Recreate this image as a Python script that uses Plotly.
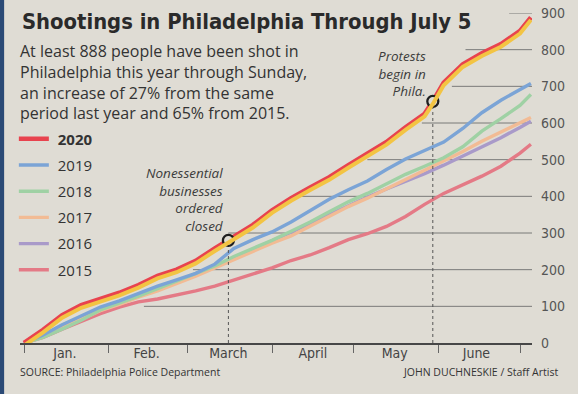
import pandas as pd
import plotly.graph_objects as go

# dias desde el 1 de enero (todas las series llevadas al calendario 2020)
days = [0, 7, 14, 21, 28, 35, 42, 49, 56, 63, 70, 77, 84, 91, 98, 105, 112,
        119, 126, 133, 140, 147, 154, 161, 168, 175, 182, 186]
days_2020 = [0, 7, 14, 21, 28, 35, 42, 49, 56, 63, 70, 75, 77, 84, 91, 98, 105,
             112, 119, 126, 133, 140, 147, 150, 154, 161, 168, 175, 182, 186]

shot_2020 = [0, 36, 76, 103, 120, 137, 158, 183, 200, 224, 258, 280, 290, 322, 362,
             395, 424, 452, 485, 515, 548, 588, 625, 659, 710, 760, 790, 815, 851, 888]
shot_2019 = [0, 22, 50, 75, 98, 115, 136, 155, 172, 190, 215, 258, 282, 303, 330,
             360, 392, 418, 442, 473, 502, 525, 548, 585, 628, 662, 690, 708]
shot_2018 = [0, 15, 38, 62, 90, 108, 128, 148, 168, 188, 210, 236, 258, 280, 305,
             330, 358, 385, 408, 435, 460, 482, 505, 535, 578, 612, 648, 678]
shot_2017 = [0, 18, 42, 65, 88, 105, 125, 142, 162, 182, 205, 228, 250, 272, 292,
             318, 345, 372, 395, 420, 445, 470, 496, 522, 550, 575, 600, 615]
shot_2016 = [0, 20, 48, 70, 92, 110, 130, 148, 168, 188, 208, 232, 255, 278, 300,
             325, 350, 375, 398, 420, 440, 462, 485, 510, 535, 560, 588, 605]
shot_2015 = [0, 15, 38, 60, 80, 98, 112, 120, 130, 142, 155, 172, 190, 205, 225,
             240, 260, 282, 298, 318, 345, 378, 408, 432, 455, 482, 518, 542]

years = ["2015", "2016", "2017", "2018", "2019"]
series = [shot_2015, shot_2016, shot_2017, shot_2018, shot_2019]
colors = ["#e47a86", "#a99ac9", "#f2bb94", "#9fd1a4", "#7ba4d6"]

# eventos marcados
event_days = [75, 150]
event_values = [280, 659]
event_text = ["<i>Nonessential<br>businesses<br>ordered<br>closed</i>",
              "<i>Protests<br>begin in<br>Phila.</i>"]
event_xshift = [-2, -5]
event_yshift = [3, -1]

month_mid = ["2020-01-16", "2020-02-15", "2020-03-16", "2020-04-16", "2020-05-16", "2020-06-15"]
month_labels = ["Jan.", "Feb.", "March", "April", "May", "June"]

y_ticks = [0, 100, 200, 300, 400, 500, 600, 700, 800, 900]
# donde empieza cada linea de referencia (por la izquierda)
grid_start = [None, 44, 62, 75, 100, 126, 146, 157, 162, 178]

base = pd.Timestamp("2020-01-01")


def to_dates(d):
    return [base + pd.Timedelta(days=x) for x in d]


BG = "#dfdcd4"
NARROW = "DejaVu Sans Condensed, Liberation Sans Narrow, sans-serif"
TEXT = "Open Sans, Noto Sans, sans-serif"
NBSP = "\u00a0"

fig = go.Figure()

for i, (yr, vals, c) in enumerate(zip(years, series, colors)):
    fig.add_trace(go.Scatter(
        x=to_dates(days), y=vals, mode="lines", name=NBSP + yr,
        legendgroup=yr, legendrank=10 - i, line=dict(color=c, width=3.4),
        hoverinfo="skip",
    ))

# sombra amarilla (desfase de impresion) bajo la linea 2020
fig.add_trace(go.Scatter(
    x=to_dates(days_2020), y=shot_2020, mode="lines", yaxis="y2",
    line=dict(color="#f3c443", width=4), showlegend=False, hoverinfo="skip",
))
fig.add_trace(go.Scatter(
    x=to_dates(days_2020), y=shot_2020, mode="lines", name=NBSP + "<b>2020</b>",
    legendgroup="2020", legendrank=1, line=dict(color="#e8434e", width=4.6),
    hoverinfo="skip",
))

# lineas verticales punteadas y marcadores de los eventos
for d, v in zip(event_days, event_values):
    fig.add_trace(go.Scatter(
        x=to_dates([d, d]), y=[0, v], mode="lines", showlegend=False,
        line=dict(color="#555", width=1, dash="dot"), hoverinfo="skip",
    ))
fig.add_trace(go.Scatter(
    x=to_dates(event_days), y=event_values, mode="markers", showlegend=False,
    marker=dict(size=11, color=BG, line=dict(color="#1e1e1e", width=2.3)),
    hoverinfo="skip",
))

# eje auxiliar para las etiquetas de los meses
fig.add_trace(go.Scatter(
    x=[base], y=[0], xaxis="x2", mode="markers", showlegend=False,
    marker=dict(opacity=0), hoverinfo="skip",
))

x_start = base - pd.Timedelta(days=1.47)
x_end = base + pd.Timedelta(days=186.4)

for level, start in zip(y_ticks, grid_start):
    if start is None:
        continue
    fig.add_shape(type="line", xref="x", yref="y",
                  x0=base + pd.Timedelta(days=start), x1=x_end, y0=level, y1=level,
                  line=dict(color="#6e6e6e", width=0.9), layer="below")

for d, v, t, xs, ys in zip(event_days, event_values, event_text, event_xshift, event_yshift):
    fig.add_annotation(x=base + pd.Timedelta(days=d), y=v, text=t, showarrow=False,
                       xanchor="right", yanchor="bottom", align="right",
                       xshift=xs, yshift=ys,
                       font=dict(family=TEXT, size=13.5, color="#3c3c3c"))

fig.add_annotation(xref="paper", yref="paper", x=0.0, y=0.973, xanchor="left",
                   yanchor="middle", showarrow=False,
                   text="<b>Shootings in Philadelphia Through July 5</b>",
                   font=dict(family=NARROW, size=21.8, color="#2a2a2a"))
fig.add_annotation(xref="paper", yref="paper", x=-0.004, y=0.925, xanchor="left",
                   yanchor="top", showarrow=False, align="left",
                   text="At least 888 people have been shot in<br>"
                        "Philadelphia this year through Sunday,<br>"
                        "an increase of 27% from the same<br>"
                        "period last year and 65% from 2015.",
                   font=dict(family=TEXT, size=16, color="#333"))
fig.add_annotation(xref="paper", yref="paper", x=-0.004, y=-0.088, xanchor="left",
                   yanchor="middle", showarrow=False,
                   text="SOURCE: Philadelphia Police Department",
                   font=dict(family=TEXT, size=10.5, color="#333"))
fig.add_annotation(xref="paper", yref="paper", x=1.055, y=-0.088, xanchor="right",
                   yanchor="middle", showarrow=False,
                   text="JOHN DUCHNESKIE / Staff Artist",
                   font=dict(family=TEXT, size=10.5, color="#333"))

# borde azul del escaneo
fig.add_shape(type="rect", xref="paper", yref="paper",
              x0=-0.045, x1=-0.031, y0=-0.2, y1=1.1,
              fillcolor="#2b4a76", line=dict(width=0), layer="above")

fig.update_layout(
    width=578, height=394,
    margin=dict(l=20, r=46, t=13, b=51, autoexpand=False),
    paper_bgcolor=BG, plot_bgcolor=BG,
    showlegend=True,
    legend=dict(x=-0.012, y=0.668, xanchor="left", yanchor="top",
                traceorder="grouped", tracegroupgap=3.7,
                bgcolor="rgba(0,0,0,0)",
                font=dict(family=TEXT, size=15, color="#333")),
    xaxis=dict(type="date", range=[x_start, x_end], tickmode="linear",
               tick0="2020-01-01", dtick="M1", ticks="outside", ticklen=8,
               tickwidth=1, tickcolor="#666", showticklabels=False,
               showgrid=False, zeroline=False, showline=True,
               linecolor="#474747", linewidth=2),
    xaxis2=dict(type="date", range=[x_start, x_end], overlaying="x", anchor="y",
                side="bottom", tickmode="array", tickvals=month_mid,
                ticktext=month_labels, ticks="", showgrid=False, showline=False,
                zeroline=False,
                tickfont=dict(family=NARROW, size=14, color="#444")),
    yaxis=dict(range=[0, 900], side="right", tickvals=y_ticks, ticks="",
               showgrid=False, zeroline=False, showline=False,
               ticklabelstandoff=8,
               tickfont=dict(family=NARROW, size=14, color="#555")),
    yaxis2=dict(range=[7, 907], overlaying="y", visible=False),
)

# la pagina trae 8px de margen en el body; se quita para que cuadre con la ventana
fig.write_html("out.html", config={"displayModeBar": False},
               post_script="document.body.style.margin='0';")
